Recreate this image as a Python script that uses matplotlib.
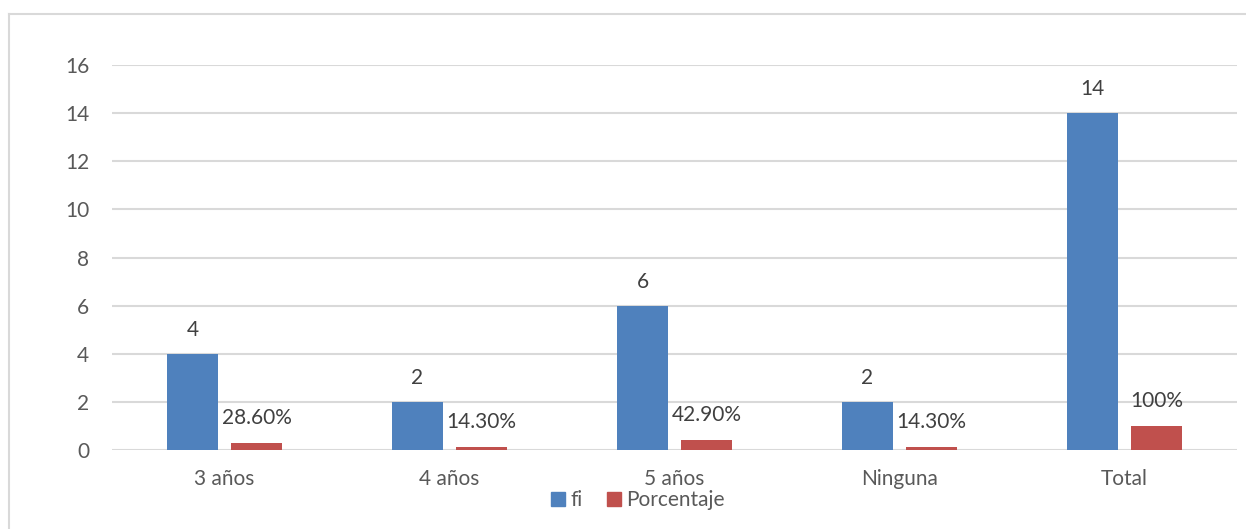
import numpy as np
import matplotlib.pyplot as plt
from matplotlib.lines import Line2D

#%% Data
categories = ['3 años', '4 años', '5 años', 'Ninguna', 'Total']
fi = [4, 2, 6, 2, 14]
porcentaje = [0.286, 0.143, 0.429, 0.143, 1.0]
porcentaje_labels = ['28.60%', '14.30%', '42.90%', '14.30%', '100%']
yticks = [0, 2, 4, 6, 8, 10, 12, 14, 16]

blue = '#4F81BD'
red = '#C0504D'
text_col = '#595959'
grid_col = '#D9D9D9'
fs = 15

plt.rcParams['font.family'] = ['Lato', 'DejaVu Sans']

#%% Figure
fig = plt.figure(figsize=(12.46, 5.29), dpi=100)
ax = fig.add_axes([112/1246, 1 - 450/529, 1125/1246, 385/529])

x = np.arange(len(categories))
w = 0.227
off = 0.142
ax.bar(x - off, fi, width=w, color=blue, label='fi', zorder=3)
ax.bar(x + off, porcentaje, width=w, color=red, label='Porcentaje', zorder=3)

# value labels, centred about 24 px above each bar
for xi, v in zip(x, fi):
    ax.annotate(str(v), (xi - off, v), xytext=(0, 24), textcoords='offset pixels',
                ha='center', va='center', fontsize=fs, color='#404040')
for xi, v, lab in zip(x, porcentaje, porcentaje_labels):
    ax.annotate(lab, (xi + off, v), xytext=(0, 25), textcoords='offset pixels',
                ha='center', va='center', fontsize=fs, color='#404040')

ax.set_xlim(-0.5, len(categories) - 0.5)
ax.set_ylim(0, 16)
ax.set_yticks(yticks)
ax.set_xticks(x)
ax.set_xticklabels(categories)
ax.tick_params(axis='both', length=0, labelsize=fs, colors=text_col)
ax.tick_params(axis='y', pad=16.5)
ax.tick_params(axis='x', pad=14)
ax.grid(axis='y', color=grid_col, linewidth=1.5, zorder=0)
for s in ax.spines.values():
    s.set_visible(False)

# legend at bottom centre
handles = [Line2D([], [], marker='s', linestyle='none', markersize=10, color=blue),
           Line2D([], [], marker='s', linestyle='none', markersize=10, color=red)]
fig.legend(handles, ['fi', 'Porcentaje'], loc='center', bbox_to_anchor=(636/1246, 1 - 500/529),
           ncol=2, frameon=False, fontsize=fs, labelcolor=text_col,
           handletextpad=0.1, columnspacing=1.0, handlelength=1.0)

# chart border (left and top edges visible)
fig.add_artist(Line2D([9/1246, 9/1246], [0, 1 - 14/529], color=grid_col, lw=1.5))
fig.add_artist(Line2D([9/1246, 1], [1 - 14/529, 1 - 14/529], color=grid_col, lw=1.5))

plt.savefig('out.png', dpi=100)
